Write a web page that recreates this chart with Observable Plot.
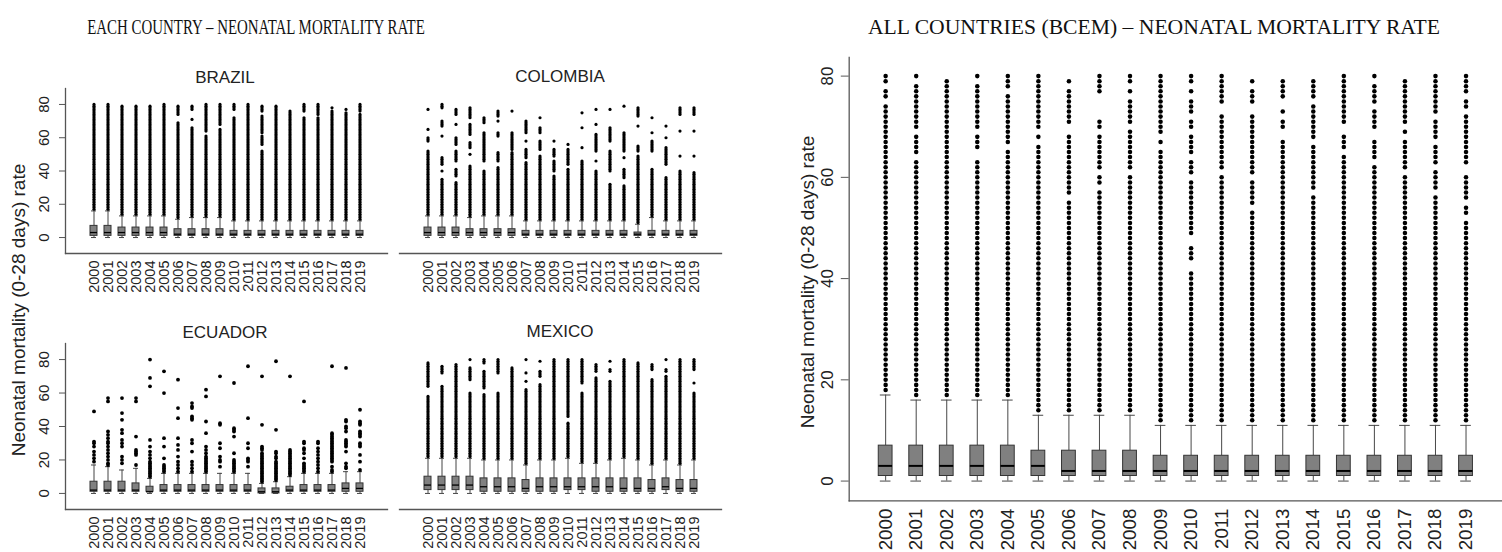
<!DOCTYPE html>
<html><head><meta charset="utf-8">
<script src="https://cdn.jsdelivr.net/npm/d3@7"></script>
<script src="https://cdn.jsdelivr.net/npm/@observablehq/plot@0.6"></script>
<style>
html,body{margin:0;padding:0;background:#fff;}
body{width:1502px;height:552px;overflow:hidden;position:relative;font-family:"Liberation Sans",Arial,sans-serif;}
.abs{position:absolute;}
.title{font-family:"Liberation Serif","Times New Roman",serif;font-size:21px;color:#111;white-space:nowrap;line-height:1;}
.ptitle{font-size:17px;color:#222;white-space:nowrap;line-height:1;transform:translate(-50%,-50%);}
.ylab{font-size:19px;color:#222;white-space:nowrap;line-height:1;transform:translate(-50%,-50%) rotate(-90deg);}
</style></head><body>
<script>
const years = ["2000","2001","2002","2003","2004","2005","2006","2007","2008","2009","2010","2011","2012","2013","2014","2015","2016","2017","2018","2019"];
const yTicks = [0, 20, 40, 60, 80];

// box stats per year: [lower whisker, q1, median, q3, upper whisker]
const brazilBox = [[0,1,3,7,16],[0,1,3,7,16],[0,1,3,6,13],[0,1,3,6,13],[0,1,3,6,13],[0,1,3,6,13],[0,1,2,5,11],[0,1,2,5,12],[0,1,2,5,12],[0,1,2,5,12],
  [0,1,2,4,10],[0,1,2,4,10],[0,1,2,4,10],[0,1,2,4,10],[0,1,2,4,10],[0,1,2,4,10],[0,1,2,4,10],[0,1,2,4,10],[0,1,2,4,10],[0,1,2,4,10]];
const brazilOut = ["17-80","17-80","14-79","14-79","14-79","14-80","12-69,74-79","13-66,71,77-79","13-61,64-80","13-65,68-80",
  "11-72,77-80","11-80","11-52,56-61,63-73,76-79","11-79","11-76","11-72,76-80","11-72,74-80","11-76,78","11-75,77","11-74,76-80"];

const colombiaBox = [[0,1,3,6,13],[0,1,3,6,13],[0,1,3,6,13],[0,1,3,5,12],[0,1,3,5,13],[0,1,3,5,13],[0,1,3,5,13],[0,1,2,4,10],[0,1,2,4,10],[0,1,2,4,10],
  [0,1,2,4,10],[0,1,2,4,10],[0,1,2,4,10],[0,1,2,4,10],[0,1,2,4,10],[0,1,2,3,8],[0,1,2,4,12],[0,1,2,4,10],[0,1,2,4,10],[0,1,2,4,10]];
const colombiaOut = ["14-52,58-60,65,77","14-35,40,44-48,61,67-70,78-80","14-33,37-41,46-52,56-60,68,74-77","13-43,50,54-57,62-68,72-78","14-40,46-63,69-72",
  "14-42,46-51,61-63,70,73-76","14-51,53-63,76","11-45,48-53,58,63-70","11-49,53-58,63-66,72","11-37,40-46,49-53,58",
  "11-41,44-53,56","11-46,54,66,75","11-40,46,52-62,68,77","11-32,40-52,58-66,77","11-31,36-41,48,52-63,79",
  "9-49,52-55,67,73-78","13-41,52-58,63,72","11-36,44-54,60,67","11-40,49,64,74-78","11-39,49,64,74-78"];

const ecuadorBox = [[0,1,2,7,17],[0,1,2,7,16],[0,1,2,7,14],[0,1,2,6,15],[0,1,1,4,9],[0,1,2,5,12],[0,1,2,5,12],[0,1,2,5,12],[0,1,2,5,12],[0,1,2,5,12],
  [0,1,2,5,12],[0,1,2,5,12],[0,0,1,3,6],[0,0,1,3,7],[0,1,2,4,10],[0,1,2,5,12],[0,1,2,5,12],[0,1,2,5,12],[0,1,3,6,13],[0,1,3,6,13]];
const ecuadorOut = ["19,21,23,25,28,30,31,49","17,18,20,22,24,26,28,30,31,33,35,37,55,57","18,20,22,28,30,32,36,38,44,48,57","17,23-26,34,55,57",
  "10-19,21,23,25,28,32,64,69,80","13-17,21,28,33,60,73","13,15,17,19,22,26,29,33,45,51,68","13,15,17,19,25,30,32,44-46,51,52,54",
  "13-22,24,26,28,36,43,58,62","16,19,20,22,27,30,41,42,70","13-20,24,34,37-39,66","16,19-21,27,30,45,76","7-24,26-28,41,70","8-19,21,22,24,25,38,79",
  "11-26,70","13-18,21,24,26,27,30,31,55","13,15,17,19,21,23,25,27,30,31","13,14,16,19-36,76","15,16,18,25,28-32,37,39,40,43,44,75",
  "14,19,23,28-30,34-37,41-43,50"];

const mexicoBox = [[0,2,5,10,21],[0,2,5,10,21],[0,2,5,10,21],[0,2,5,10,21],[0,1,4,9,20],[0,1,4,9,20],[0,1,4,9,20],[0,1,3,8,17],[0,1,4,9,20],[0,1,4,9,20],
  [0,2,4,9,21],[0,2,4,9,18],[0,1,4,9,18],[0,1,4,9,20],[0,1,3,9,21],[0,1,3,9,20],[0,1,3,8,17],[0,2,4,9,20],[0,1,3,8,17],[0,1,3,8,20]];
const mexicoOut = ["22-58,64-78","22-64,72-76","22-77","22-60,68-75,80","21-59,63-73,78-80","21-60,72-80","21-75","18-62,67,72,80","21-65,70-73,79","21-80",
  "22-42,46-80","19-60,66-80","19-69,73-77","21-67,73-74,79","22-80","21-78","18-68,74-77","21-70,73-74,80","18-80","21-60,66,74-80"];

const allBox = [[0,1,3,7,17],[0,1,3,7,16],[0,1,3,7,16],[0,1,3,7,16],[0,1,3,7,16],[0,1,3,6,13],[0,1,2,6,13],[0,1,2,6,13],[0,1,2,6,13],[0,1,2,5,11],
  [0,1,2,5,11],[0,1,2,5,11],[0,1,2,5,11],[0,1,2,5,11],[0,1,2,5,11],[0,1,2,5,11],[0,1,2,5,11],[0,1,2,5,11],[0,1,2,5,11],[0,1,2,5,11]];
const allOut = ["18-74,76-77,79-80","17-63,65-68,70-78,80","17-79","17-63,66-68,70-78,80","17-65,67-76,78-80","14-66,68,70-80","14-55,57-68,71-77,79",
  "14-57,59-60,62-68,70-71,77-80","14-60,62-69,71-75,77,79-80","12-65,67,69-80","12-41,44-46,49-59,61-63,65-68,70-71,73-75,77,79-80",
  "12-60,62-72,75-80","12-53,55-59,61-72,75-77,79","12-67,70-71,73,76-79","12-56,58-66,68-74,76-79","12-64,66-68,71-80",
  "12-62,64-67,70-73,75-78,80","12-60,62-67,69,71-79","12-56,58-61,63-66,68-71,73-80","12-51,53-54,56-60,63-72,74-75,77-80"];

const titleLeft = "EACH COUNTRY \u2013 NEONATAL MORTALITY RATE";
const titleRight = "ALL COUNTRIES (BCEM) \u2013 NEONATAL MORTALITY RATE";
const yLabel = "Neonatal mortality (0-28 days) rate";

function parseRuns(s) {
  const out = [];
  for (const part of s.split(",")) {
    const [a, b] = part.split("-").map(Number);
    if (b === undefined) out.push(a); else for (let v = a; v <= b; v++) out.push(v);
  }
  return out;
}

function addDiv(cls, text, x, y, extra) {
  const d = document.createElement("div");
  d.className = "abs " + cls;
  d.textContent = text;
  d.style.left = x + "px"; d.style.top = y + "px";
  if (extra) Object.assign(d.style, extra);
  document.body.appendChild(d);
  return d;
}

function panel(o) {
  const rows = years.map((yr, i) => ({year: yr, lo: o.box[i][0], q1: o.box[i][1], med: o.box[i][2], q3: o.box[i][3], hi: o.box[i][4]}));
  const pts = years.flatMap((yr, i) => parseRuns(o.out[i]).map(v => ({year: yr, v})));
  const marks = [
    Plot.ruleX(rows, {x: "year", y1: "lo", y2: "q1", stroke: "#444", strokeWidth: 1}),
    Plot.ruleX(rows, {x: "year", y1: "q3", y2: "hi", stroke: "#444", strokeWidth: 1}),
    Plot.tickY(rows, {x: "year", y: "lo", insetLeft: o.capInset, insetRight: o.capInset, stroke: "#444"}),
    Plot.tickY(rows, {x: "year", y: "hi", insetLeft: o.capInset, insetRight: o.capInset, stroke: "#444"}),
    Plot.barY(rows, {x: "year", y1: "q1", y2: "q3", fill: "#808080", stroke: "#333", strokeWidth: 1}),
    Plot.tickY(rows, {x: "year", y: "med", stroke: "#000", strokeWidth: o.medW}),
    Plot.dot(pts, {x: "year", y: "v", r: o.r, fill: "#000", stroke: "none"}),
    Plot.frame({anchor: "bottom", stroke: "#555", strokeWidth: 1.3}),
    Plot.axisX({tickSize: 0, tickRotate: -90, tickPadding: o.xPad, fontSize: o.xfs, label: null})
  ];
  if (o.showY) {
    marks.push(Plot.frame({anchor: "left", stroke: "#555", strokeWidth: 1.3}));
    marks.push(Plot.axisY({ticks: yTicks, tickSize: o.tickSize, tickFormat: () => "", label: null, stroke: "#555"}));
    marks.push(Plot.text(yTicks, {y: d => d, text: d => String(d), frameAnchor: "left", dx: o.yDx, rotate: -90,
      textAnchor: "middle", lineAnchor: "middle", fontSize: o.yfs, fill: "#222"}));
  }
  const svg = Plot.plot({
    width: o.width, height: o.height,
    marginLeft: o.mL, marginRight: o.mR, marginTop: o.mT, marginBottom: o.mB,
    x: {type: "band", domain: years, paddingInner: o.pi, paddingOuter: o.po, label: null},
    y: {domain: o.yDomain, label: null, axis: null},
    style: {fontFamily: "'Liberation Sans', Arial, sans-serif", color: "#222", background: "transparent", overflow: "visible"},
    marks
  });
  const wrap = document.createElement("div");
  wrap.className = "abs";
  wrap.style.left = o.left + "px"; wrap.style.top = o.top + "px";
  wrap.appendChild(svg);
  document.body.appendChild(wrap);
}

const leftCommon = {width: 400, mL: 65, mR: 13, pi: 0.5, po: 1.215, yDomain: [-9.6, 89.6], r: 1.6, capInset: 1, medW: 1.3, xfs: 14.5, yfs: 15, xPad: 7, yDx: -21, tickSize: 6};
panel({...leftCommon, box: brazilBox, out: brazilOut, left: 0, top: 85, height: 215, mT: 3, mB: 47, showY: true});
panel({...leftCommon, box: colombiaBox, out: colombiaOut, left: 334, top: 85, height: 215, mT: 3, mB: 47, showY: false});
panel({...leftCommon, box: ecuadorBox, out: ecuadorOut, left: 0, top: 340, height: 212, mT: 3, mB: 43, showY: true, r: 1.9});
panel({...leftCommon, box: mexicoBox, out: mexicoOut, left: 334, top: 340, height: 212, mT: 3, mB: 43, showY: false});
panel({box: allBox, out: allOut, left: 760, top: 50, width: 753, height: 502, mL: 90, mR: 0, mT: 7, mB: 45, pi: 0.55, po: 0.755,
  yDomain: [-3.9, 83.7], r: 2.3, capInset: 1.6, medW: 2, xfs: 19, yfs: 17, xPad: 8, yDx: -22, tickSize: 8, showY: true});

addDiv("ptitle", "BRAZIL", 225, 77);
addDiv("ptitle", "COLOMBIA", 560, 76);
addDiv("ptitle", "ECUADOR", 225, 332);
addDiv("ptitle", "MEXICO", 560, 331);
addDiv("ylab", yLabel, 18, 310);
addDiv("ylab", yLabel, 807, 282);
addDiv("title", titleLeft, 256, 27, {transform: "translate(-50%,-50%) scaleX(0.71)"});
addDiv("title", titleRight, 1154, 27, {transform: "translate(-50%,-50%) scaleX(1.03)"});
</script>
</body></html>
